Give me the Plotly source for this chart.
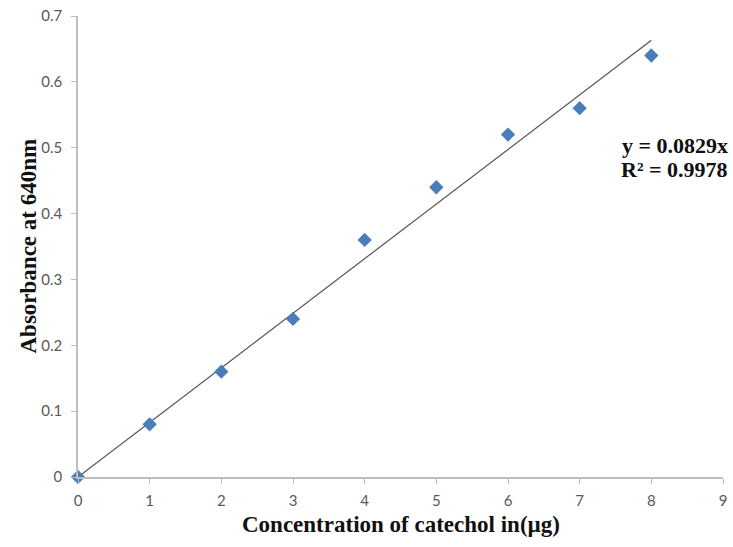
import plotly.graph_objects as go

conc = [0, 1, 2, 3, 4, 5, 6, 7, 8]
absorb = [0, 0.08, 0.16, 0.24, 0.36, 0.44, 0.52, 0.56, 0.64]
slope = 0.0829
trend_x = [0, 8]
trend_y = [slope * v for v in trend_x]

fig = go.Figure()
fig.add_trace(go.Scatter(x=trend_x, y=trend_y, mode="lines",
                         line=dict(color="#555555", width=1.2), showlegend=False))
fig.add_trace(go.Scatter(x=conc, y=absorb, mode="markers",
                         marker=dict(symbol="diamond", size=11, color="#4A7EBB"),
                         showlegend=False, cliponaxis=False))

axis_common = dict(showgrid=False, zeroline=False, showline=True, linecolor="#BDBDBD",
                   linewidth=1.5, ticks="outside", ticklen=5, tickcolor="#BDBDBD",
                   automargin=False, ticklabeloverflow="allow",
                   tickfont=dict(family="Lato, Open Sans, sans-serif", size=15, color="#595959"))

title_font = dict(family="Liberation Serif, serif", size=23, color="#111111")
eq_font = dict(family="Liberation Serif, serif", size=22, color="#111111")

fig.update_layout(
    width=733, height=547,
    margin=dict(l=78, r=10, t=16, b=70),
    paper_bgcolor="white", plot_bgcolor="white",
    xaxis=dict(range=[0, 9], tickvals=list(range(10)), ticklabelstandoff=4, **axis_common),
    yaxis=dict(range=[0, 0.7], tickvals=[0, 0.1, 0.2, 0.3, 0.4, 0.5, 0.6, 0.7],
               ticktext=["0", "0.1", "0.2", "0.3", "0.4", "0.5", "0.6", "0.7"],
               ticklabelstandoff=6, **axis_common),
    annotations=[
        dict(x=1.0109, y=0.72, xref="paper", yref="paper", xanchor="right", yanchor="middle",
             showarrow=False, text="<b>y = 0.0829x</b>", font=eq_font),
        dict(x=1.0109, y=0.668, xref="paper", yref="paper", xanchor="right", yanchor="middle",
             showarrow=False, text="<b>R² = 0.9978</b>", font=eq_font),
        dict(x=0.5, y=-0.102, xref="paper", yref="paper", xanchor="center", yanchor="middle",
             showarrow=False, text="<b>Concentration of catechol in(µg)</b>", font=title_font),
        dict(x=-0.0775, y=0.5, xref="paper", yref="paper", xanchor="center", yanchor="middle",
             showarrow=False, textangle=-90, text="<b>Absorbance at 640nm</b>", font=title_font),
    ],
)

fig.write_html("out.html", config={"displayModeBar": False},
               post_script="document.body.style.margin='0';document.body.style.overflow='hidden';")
